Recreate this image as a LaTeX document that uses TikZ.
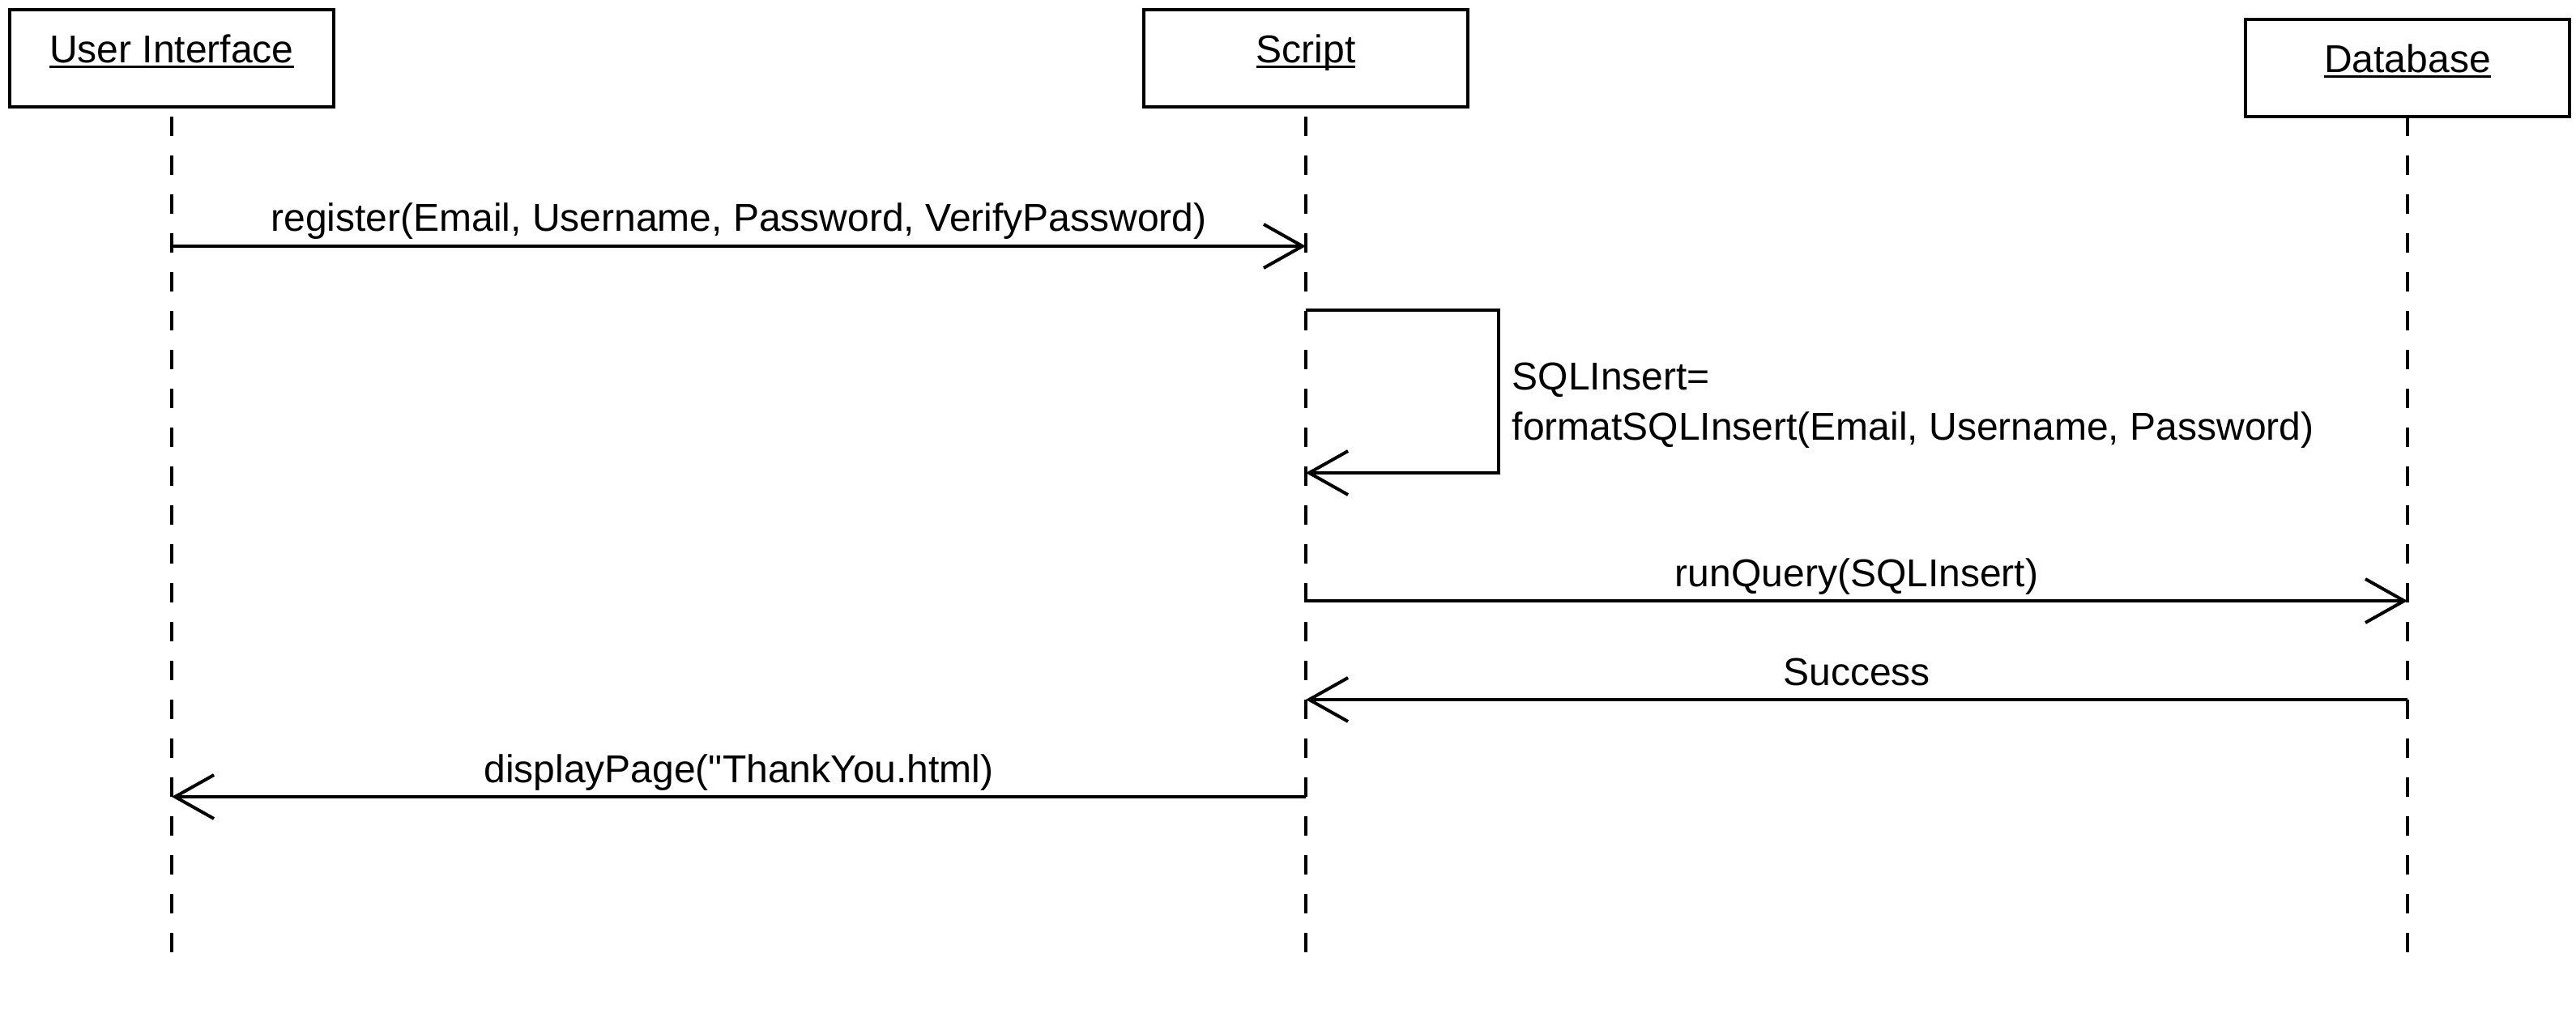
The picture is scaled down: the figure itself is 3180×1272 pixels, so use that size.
\documentclass[tikz,border=0pt]{standalone}
\usepackage{fontspec}
\setmainfont{Liberation Sans}[Ligatures=TeXOff]
\usetikzlibrary{arrows.meta}
\newcommand\ulx[1]{\setbox0=\hbox{#1}\rlap{\rule[-1.6pt]{\wd0}{0.8pt}}\box0}
\tikzset{
  actor/.style={draw, line width=1pt, minimum width=100pt, minimum height=30pt,
    inner sep=0pt, text height=11pt, text depth=8pt},
  lifeline/.style={line width=1pt, dash pattern=on 6pt off 6pt},
  msg/.style={line width=1pt, -{Straight Barb[length=12pt,width=13.5pt,line width=1pt]}},
  lbl/.style={anchor=base, inner sep=0pt},
  txt/.style={font=\fontsize{12pt}{14.4pt}\selectfont},
}
\begin{document}
\begin{tikzpicture}[x=0.25pt, y=-0.25pt, every node/.style={txt}]
\useasboundingbox (0,0) rectangle (3180,1272);
\node[actor] (ui) at (212,72) {\ulx{User Interface}};
\node[actor] (sc) at (1612,72) {\ulx{Script}};
\node[actor] (db) at (2972,84) {\ulx{Database}};
\coordinate (topl) at (0,144);
\coordinate (botl) at (0,1176);
\draw[lifeline] (ui |- topl) -- (ui |- botl);
\draw[lifeline] (sc |- topl) -- (sc |- botl);
\draw[lifeline] (db |- topl) -- (db |- botl);
% messages
\coordinate (m1) at (0,304);
\coordinate (s1) at (1850,383);
\coordinate (s2) at (1850,584);
\coordinate (m3) at (0,742);
\coordinate (m4) at (0,864);
\coordinate (m5) at (0,984);
\draw[msg] (ui |- m1) -- (sc |- m1) node[lbl, midway, yshift=4.5pt] (l1) {register(Email, Username, Password, VerifyPassword)};
\draw[msg] (sc |- s1) -- (s1) -- (s2) -- (sc |- s2);
\node[anchor=base west, inner sep=0pt] (l2a) at (1866,482) {SQLInsert=};
\node[anchor=base west, inner sep=0pt] (l2b) at (1866,543) {formatSQLInsert(Email, Username, Password)};
\draw[msg] (sc |- m3) -- (db |- m3) node[lbl, midway, yshift=4.5pt] (l3) {runQuery(SQLInsert)};
\draw[msg] (db |- m4) -- (sc |- m4) node[lbl, midway, yshift=4.5pt] (l4) {Success};
\draw[msg] (sc |- m5) -- (ui |- m5) node[lbl, midway, yshift=4.5pt] (l5) {displayPage("ThankYou.html)};
\end{tikzpicture}
\end{document}
